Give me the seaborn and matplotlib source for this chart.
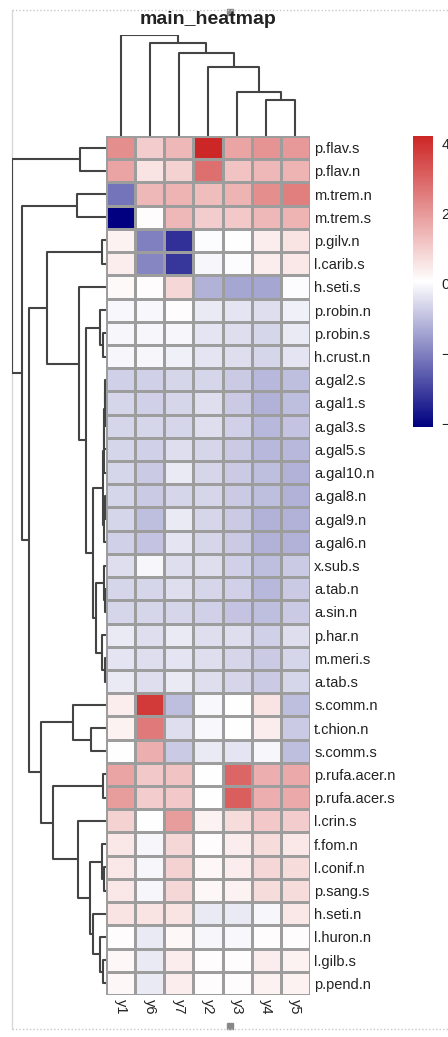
import numpy as np
import pandas as pd
import matplotlib
matplotlib.use("Agg")
import matplotlib.pyplot as plt
from matplotlib.colors import LinearSegmentedColormap
from matplotlib.lines import Line2D
from matplotlib.patches import Rectangle
import seaborn as sns

# ─────────────────────────── Data ─────────────────────────────────────────────
row_names = ['p.flav.s', 'p.flav.n', 'm.trem.n', 'm.trem.s', 'p.gilv.n', 'l.carib.s',
             'h.seti.s', 'p.robin.n', 'p.robin.s', 'h.crust.n', 'a.gal2.s', 'a.gal1.s',
             'a.gal3.s', 'a.gal5.s', 'a.gal10.n', 'a.gal8.n', 'a.gal9.n', 'a.gal6.n',
             'x.sub.s', 'a.tab.n', 'a.sin.n', 'p.har.n', 'm.meri.s', 'a.tab.s',
             's.comm.n', 't.chion.n', 's.comm.s', 'p.rufa.acer.n', 'p.rufa.acer.s',
             'l.crin.s', 'f.fom.n', 'l.conif.n', 'p.sang.s', 'h.seti.n', 'l.huron.n',
             'l.gilb.s', 'p.pend.n']
col_names = ['y1', 'y6', 'y7', 'y2', 'y3', 'y4', 'y5']

y1 = [2.2, 1.8, -2.2, -4.1, 0.3, 0.4, 0.15, -0.05, -0.1, -0.1, -0.7, -0.6, -0.6, -0.6,
      -0.6, -0.6, -0.6, -0.7, -0.5, -0.6, -0.6, -0.3, -0.4, -0.3, 0.4, 0.3, 0.05, 1.8,
      1.9, 0.9, 0.5, 0.5, 0.5, 0.6, 0.1, 0.2, 0.2]
y6 = [1.0, 0.6, 1.4, 0.1, -2.0, -1.9, 0.1, -0.05, -0.1, -0.1, -0.7, -0.7, -0.6, -0.7,
      -0.8, -0.8, -1.0, -0.9, -0.1, -0.6, -0.6, -0.5, -0.5, -0.5, 3.8, 2.6, 1.6, 1.1,
      1.0, 0.05, -0.1, -0.1, -0.1, 0.6, -0.3, -0.3, -0.3]
y7 = [1.4, 0.9, 1.5, 1.4, -3.3, -3.2, 0.8, 0.1, -0.1, -0.2, -0.6, -0.6, -0.6, -0.5,
      -0.3, -0.6, -0.3, -0.4, -0.5, -0.5, -0.6, -0.3, -0.4, -0.3, -1.0, -0.5, -0.8, 1.2,
      1.1, 1.9, 0.8, 0.9, 0.8, 0.6, 0.2, 0.4, 0.4]
y2 = [4.2, 2.8, 1.3, 1.0, 0.0, -0.1, -1.2, -0.3, -0.4, -0.4, -0.6, -0.5, -0.5, -0.6,
      -0.6, -0.6, -0.6, -0.6, -0.5, -0.6, -0.7, -0.5, -0.5, -0.5, -0.05, -0.05, -0.3,
      0.05, 0.05, 0.3, 0.1, 0.2, 0.2, -0.3, -0.1, 0.1, 0.1]
y3 = [1.8, 1.2, 1.5, 1.1, 0.05, 0.0, -1.4, -0.4, -0.5, -0.5, -0.8, -0.8, -0.7, -0.8,
      -0.8, -0.8, -0.8, -0.8, -0.7, -0.7, -0.9, -0.5, -0.6, -0.6, 0.05, 0.05, -0.4, 3.0,
      3.1, 0.7, 0.4, 0.4, 0.3, -0.3, -0.05, 0.1, 0.1]
y4 = [2.1, 1.4, 2.2, 1.4, 0.4, 0.4, -1.4, -0.5, -0.6, -0.6, -1.1, -1.2, -1.1, -1.1,
      -1.0, -1.0, -1.2, -1.2, -1.0, -1.1, -1.0, -0.7, -0.8, -0.8, 0.6, 0.4, -0.1, 1.6,
      1.6, 1.1, 0.7, 0.8, 0.7, -0.1, 0.1, 0.4, 0.3]
y5 = [2.0, 1.5, 2.5, 1.5, 0.6, 0.5, 0.0, -0.2, -0.3, -0.4, -1.0, -1.0, -0.9, -1.1,
      -1.2, -1.2, -1.2, -1.2, -0.8, -0.8, -0.8, -0.5, -0.6, -0.6, -1.0, -0.8, -1.0, 1.7,
      1.7, 1.0, 0.5, 0.7, 0.7, 0.5, 0.1, 0.3, 0.3]

# hierarchical merges: (child a, child b, height); leaves are 0..n-1 in display order
row_merges = [(0, 1, 26), (2, 3, 29), (4, 5, 4), (8, 9, 3), (7, 40, 6),
              (10, 11, 1), (42, 12, 1.5), (43, 13, 2), (44, 14, 2.5), (15, 16, 1),
              (46, 17, 2), (45, 47, 3), (19, 20, 1.5), (18, 49, 2.5), (22, 23, 1.5),
              (21, 51, 4), (50, 52, 10), (48, 53, 13), (41, 54, 20), (6, 55, 27),
              (39, 56, 59), (25, 26, 15), (24, 58, 33), (27, 28, 3), (31, 32, 2),
              (30, 61, 4), (35, 36, 3), (34, 63, 6), (33, 64, 13), (62, 65, 16),
              (29, 66, 28), (60, 67, 53), (59, 68, 65), (57, 69, 77), (38, 70, 84),
              (37, 71, 94)]
col_merges = [(5, 6, 36), (4, 7, 44), (3, 8, 70), (2, 9, 84), (1, 10, 94), (0, 11, 102)]

df = pd.DataFrame({'y1': y1, 'y6': y6, 'y7': y7, 'y2': y2, 'y3': y3, 'y4': y4, 'y5': y5},
                  index=row_names)[col_names]

# ─────────────────────────── Setup ────────────────────────────────────────────
sns.set_style("white")
plt.rcParams['font.family'] = ['Liberation Sans', 'DejaVu Sans']

W, H = 448, 1037
fig = plt.figure(figsize=(W / 100, H / 100), dpi=100)

def px_axes(x0, y0, x1, y1_):
    return fig.add_axes([x0 / W, 1 - y1_ / H, (x1 - x0) / W, (y1_ - y0) / H])

HM = (106, 136, 310, 995)
ax = px_axes(*HM)
ax_row = px_axes(12, HM[1], HM[0], HM[3])
ax_col = px_axes(HM[0], 35, HM[2], HM[1])
cax = px_axes(413, 136, 433, 427)

cmap = LinearSegmentedColormap.from_list('pheat', ['navy', 'white', '#CD2626'])
sns.heatmap(df, ax=ax, cmap=cmap, vmin=-4.1, vmax=4.2, linewidths=1,
            linecolor='#9d9d9d', cbar_ax=cax, cbar_kws={'ticks': [4, 2, 0, -2, -4]})

ax.yaxis.tick_right()
ax.set_yticks(np.arange(len(row_names)) + 0.5)
ax.set_yticklabels(row_names, rotation=0, fontsize=10.5, color='#222222')
ax.set_xticks(np.arange(len(col_names)) + 0.5)
ax.set_xticklabels(col_names, rotation=270, fontsize=10.5, color='#222222', va='top')
ax.tick_params(length=0, pad=3)
ax.set_xlabel('')
ax.set_ylabel('')

fig.text(208 / W, 1 - 20 / H, 'main_heatmap', fontsize=14, fontweight='bold',
         color='#222222', ha='center', va='center')

cbar = ax.collections[0].colorbar
cbar.outline.set_visible(False)
cax.tick_params(length=0, pad=6, labelsize=10.5, labelcolor='#222222')

# ─────────────────────────── Dendrograms ──────────────────────────────────────
def draw_dendro(axd, merges, n, horizontal):
    pos = {i: i + 0.5 for i in range(n)}
    hgt = {i: 0.0 for i in range(n)}
    for k, (a, b, h) in enumerate(merges):
        node = n + k
        xs = [hgt[a], h, h, hgt[b]]
        ys = [pos[a], pos[a], pos[b], pos[b]]
        if horizontal:
            axd.plot(xs, ys, color='#444444', lw=1.5, solid_capstyle='butt')
        else:
            axd.plot(ys, xs, color='#444444', lw=1.5, solid_capstyle='butt')
        pos[node] = (pos[a] + pos[b]) / 2
        hgt[node] = h
    top = merges[-1][2]
    if horizontal:
        axd.set_xlim(top, 0)
        axd.set_ylim(n, 0)
    else:
        axd.set_xlim(0, n)
        axd.set_ylim(0, top)
    axd.axis('off')

draw_dendro(ax_row, row_merges, len(row_names), True)
draw_dendro(ax_col, col_merges, len(col_names), False)

# ─────────────────────────── Viewer frame ─────────────────────────────────────
def px_line(xs, ys, **kw):
    fig.add_artist(Line2D([x / W for x in xs], [1 - y / H for y in ys],
                          transform=fig.transFigure, **kw))

px_line([12, W], [10, 10], color='#c8c8c8', lw=1, ls=(0, (1, 1.5)))
px_line([12, W], [1029, 1029], color='#c8c8c8', lw=1, ls=(0, (1, 1.5)))
px_line([12, 12], [10, 1029], color='#d8d8d8', lw=1, zorder=0)
for yy in (12, 1026):
    fig.add_artist(Rectangle((227 / W, 1 - (yy + 3) / H), 6 / W, 6 / H,
                             transform=fig.transFigure, color='#888888'))

plt.savefig('out.png', dpi=100)
plt.close()
